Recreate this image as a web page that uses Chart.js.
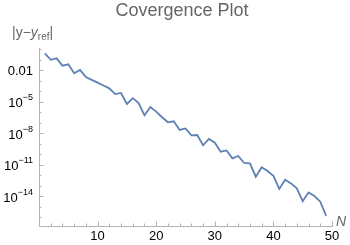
<!DOCTYPE html>
<html>
<head>
<meta charset="utf-8">
<script src="https://cdn.jsdelivr.net/npm/chart.js@4.4.1/dist/chart.umd.min.js"></script>
<style>
  html, body { margin: 0; padding: 0; background: #fff; }
  #chart { display: block; }
</style>
</head>
<body>
<canvas id="chart" width="350" height="245"></canvas>
<script>
// ────────────────────────────────────────────────
// Data
// ────────────────────────────────────────────────
const nValues = [
  1, 2, 3, 4, 5, 6, 7, 8, 9, 10,
  11, 12, 13, 14, 15, 16, 17, 18, 19, 20,
  21, 22, 23, 24, 25, 26, 27, 28, 29, 30,
  31, 32, 33, 34, 35, 36, 37, 38, 39, 40,
  41, 42, 43, 44, 45, 46, 47, 48, 49
];

const errorValues = [
  3.9e-1, 9.5e-2, 1.3e-1, 2.6e-2, 3.5e-2, 4.9e-3, 1.0e-2, 2.1e-3, 1.15e-3, 6.3e-4,
  3.4e-4, 1.8e-4, 5.1e-5, 6.5e-5, 5.8e-6, 2.1e-5, 7.2e-6, 4.9e-7, 3.0e-6, 1.1e-6,
  3.2e-7, 1.05e-7, 1.3e-7, 1.95e-8, 2.75e-8, 6.0e-9, 6.5e-9, 6.8e-10, 2.7e-9, 1.2e-9,
  1.66e-10, 2.2e-10, 3.9e-11, 6.5e-11, 1.4e-11, 1.3e-11, 6.9e-13, 5.4e-12, 2.4e-12, 8.5e-13,
  4.7e-14, 3.5e-13, 1.6e-13, 5.4e-14, 3.2e-15, 2.2e-14, 1.0e-14, 2.9e-15, 1.3e-16
];

// Axis ticks
const xMajorTicks = [10, 20, 30, 40, 50];
const xMinorTicks = [2, 4, 6, 8, 12, 14, 16, 18, 22, 24, 26, 28, 32, 34, 36, 38, 42, 44, 46, 48];

const yMajorTicks = [1e-2, 1e-5, 1e-8, 1e-11, 1e-14];
const yTickBase   = ['0.01', '10', '10', '10', '10'];
const yTickExp    = ['', '\u22125', '\u22128', '\u221211', '\u221214'];
const yMinorTicks = [1, 1e-1, 1e-3, 1e-4, 1e-6, 1e-7, 1e-9, 1e-10, 1e-12, 1e-13, 1e-15, 1e-16];

// ────────────────────────────────────────────────
// Style
// ────────────────────────────────────────────────
const FONT       = "'Liberation Sans', Arial, sans-serif";
const LINE_COLOR = '#5e81b5';
const AXIS_GREY  = '#b3b3b3';
const LABEL_GREY = '#666666';

/**
 * Draws Mathematica-like inward ticks, y labels with exponents,
 * and the two axis labels.
 */
const axisDecor = {
  id: 'axisDecor',
  afterDraw(chart) {
    const { ctx, chartArea: area, scales: { x, y } } = chart;
    ctx.save();
    ctx.strokeStyle = AXIS_GREY;
    ctx.lineWidth = 1;

    const yTick = (v, len) => {
      const py = Math.round(y.getPixelForValue(v)) + 0.5;
      ctx.beginPath();
      ctx.moveTo(area.left, py);
      ctx.lineTo(area.left + len, py);
      ctx.stroke();
    };
    const xTick = (v, len) => {
      const px = Math.round(x.getPixelForValue(v)) + 0.5;
      ctx.beginPath();
      ctx.moveTo(px, area.bottom);
      ctx.lineTo(px, area.bottom - len);
      ctx.stroke();
    };

    yMajorTicks.forEach(v => yTick(v, 4.5));
    yMinorTicks.forEach(v => yTick(v, 2.5));
    xMajorTicks.forEach(v => xTick(v, 4.5));
    xMinorTicks.forEach(v => xTick(v, 2.5));

    // y tick labels
    ctx.fillStyle = '#000';
    ctx.textBaseline = 'middle';
    yMajorTicks.forEach((v, i) => {
      const py = y.getPixelForValue(v);
      const right = area.left - 6;
      if (!yTickExp[i]) {
        ctx.font = `13px ${FONT}`;
        ctx.textAlign = 'right';
        ctx.fillText(yTickBase[i], right, py + 1);
        return;
      }
      ctx.font = `9px ${FONT}`;
      const expW = ctx.measureText(yTickExp[i]).width;
      ctx.textAlign = 'left';
      ctx.fillText(yTickExp[i], right - expW, py - 4);
      ctx.font = `13px ${FONT}`;
      ctx.textAlign = 'right';
      ctx.fillText(yTickBase[i], right - expW, py + 2);
    });

    // y axis label |y−y_ref|
    ctx.fillStyle = LABEL_GREY;
    ctx.textAlign = 'left';
    let cx = 12;
    const ly = 33;
    ctx.font = `14px ${FONT}`;
    ctx.fillText('|y\u2212', cx, ly);
    cx += ctx.measureText('|y\u2212').width;
    ctx.font = `italic 14px ${FONT}`;
    ctx.fillText('y', cx, ly);
    cx += ctx.measureText('y').width;
    ctx.font = `10px ${FONT}`;
    ctx.fillText('ref', cx, ly + 4);
    cx += ctx.measureText('ref').width;
    ctx.font = `14px ${FONT}`;
    ctx.fillText('|', cx, ly);

    // x axis label N
    ctx.font = `italic 14px ${FONT}`;
    ctx.fillText('N', 336, 222);

    ctx.restore();
  }
};

// ────────────────────────────────────────────────
// Chart
// ────────────────────────────────────────────────
const points = nValues.map((n, i) => ({ x: n, y: errorValues[i] }));

new Chart(document.getElementById('chart'), {
  type: 'line',
  data: {
    datasets: [{
      data: points,
      borderColor: LINE_COLOR,
      borderWidth: 1.8,
      pointRadius: 0,
      tension: 0,
      fill: false
    }]
  },
  options: {
    responsive: false,
    animation: false,
    devicePixelRatio: 1,
    layout: { padding: { left: 32, right: 18, top: 0, bottom: 0 } },
    plugins: {
      legend: { display: false },
      tooltip: { enabled: false },
      title: {
        display: true,
        text: 'Covergence Plot',
        color: LABEL_GREY,
        font: { family: FONT, size: 18, weight: 'normal' },
        padding: { top: 0.5, bottom: 25.9 }
      }
    },
    scales: {
      x: {
        type: 'linear',
        min: 0,
        max: 50,
        bounds: 'data',
        afterBuildTicks: scale => {
          scale.ticks = xMajorTicks.map(v => ({ value: v }));
        },
        afterFit: scale => { scale.height = 19; },
        grid: { display: false, drawTicks: false },
        border: { display: true, color: AXIS_GREY, width: 1 },
        ticks: {
          color: '#000',
          padding: 3,
          maxRotation: 0,
          font: { family: FONT, size: 13 }
        }
      },
      y: {
        type: 'logarithmic',
        min: 1.4e-17,
        max: 1.25,
        bounds: 'data',
        afterBuildTicks: scale => {
          scale.ticks = yMajorTicks.map(v => ({ value: v }));
        },
        afterFit: scale => { scale.width = 7; },
        grid: { display: false, drawTicks: false },
        border: { display: true, color: AXIS_GREY, width: 1 },
        ticks: { display: false }
      }
    }
  },
  plugins: [axisDecor]
});
</script>
</body>
</html>
